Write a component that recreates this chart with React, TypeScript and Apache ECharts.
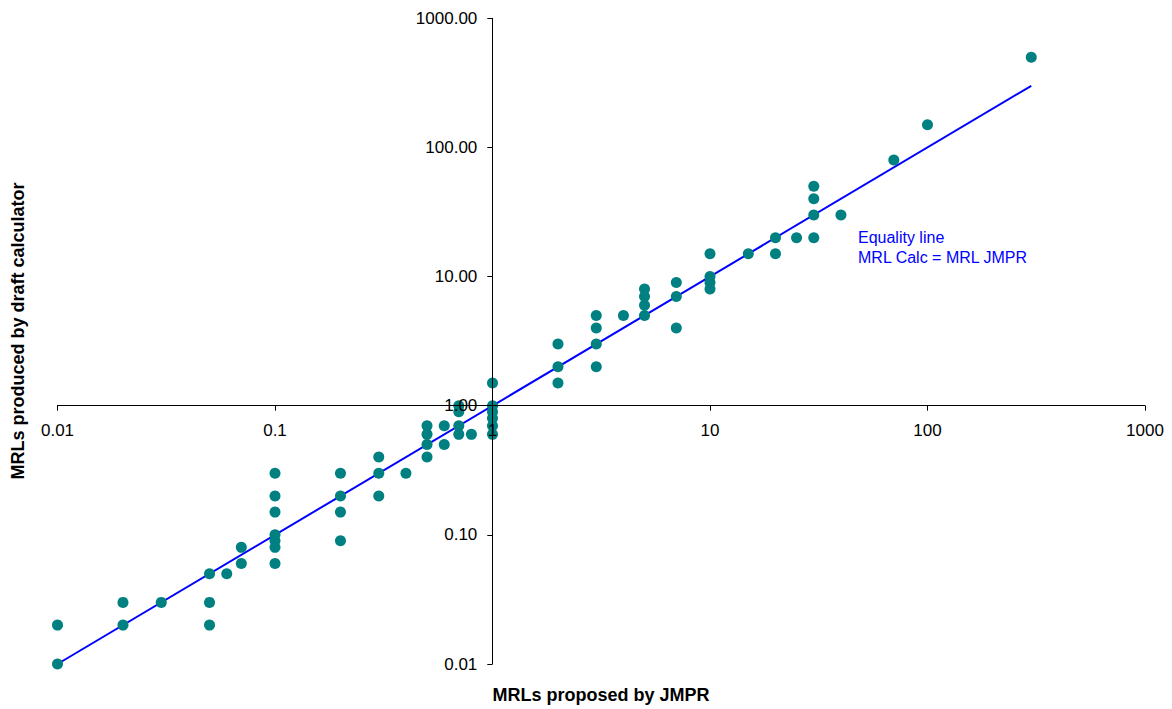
import React, { useEffect, useRef } from "react";
import * as echarts from "echarts";

// MRLs proposed by JMPR (x) vs MRLs produced by draft calculator (y)
const points: [number, number][] = [
  [0.01, 0.02], [0.01, 0.01],
  [0.02, 0.03], [0.02, 0.02],
  [0.03, 0.03],
  [0.05, 0.05], [0.05, 0.03], [0.05, 0.02],
  [0.06, 0.05],
  [0.07, 0.08], [0.07, 0.06],
  [0.1, 0.3], [0.1, 0.2], [0.1, 0.15], [0.1, 0.1], [0.1, 0.09], [0.1, 0.08], [0.1, 0.06],
  [0.2, 0.3], [0.2, 0.2], [0.2, 0.15], [0.2, 0.09],
  [0.3, 0.4], [0.3, 0.3], [0.3, 0.2],
  [0.4, 0.3],
  [0.5, 0.7], [0.5, 0.6], [0.5, 0.5], [0.5, 0.4],
  [0.6, 0.7], [0.6, 0.5],
  [0.7, 1.0], [0.7, 0.9], [0.7, 0.7], [0.7, 0.6],
  [0.8, 0.6],
  [1, 1.5], [1, 1.0], [1, 0.9], [1, 0.8], [1, 0.7], [1, 0.6],
  [2, 3], [2, 2], [2, 1.5],
  [3, 5], [3, 4], [3, 3], [3, 2],
  [4, 5],
  [5, 8], [5, 7], [5, 6], [5, 5],
  [7, 9], [7, 7], [7, 4],
  [10, 15], [10, 10], [10, 9], [10, 8],
  [15, 15],
  [20, 20], [20, 15],
  [25, 20],
  [30, 50], [30, 40], [30, 30], [30, 20],
  [40, 30],
  [70, 80],
  [100, 150],
  [300, 500],
];

const equalityLine: [number, number][] = [
  [0.01, 0.01],
  [300, 300],
];

const xTickLabels = ["0.01", "0.1", "1", "10", "100", "1000"];
const yTickLabels = ["0.01", "0.10", "1.00", "10.00", "100.00", "1000.00"];

const FONT = "'Liberation Sans', Arial, Helvetica, sans-serif";

export default function App() {
  const ref = useRef<HTMLDivElement>(null);
  useEffect(() => {
    document.body.style.margin = "0";
    if (!ref.current) return;
    const chart = echarts.init(ref.current, undefined, { renderer: "svg" });
    const idx = (v: number) => Math.round(Math.log10(v)) + 2;
    chart.setOption({
      animation: false,
      backgroundColor: "#ffffff",
      grid: { left: 57.5, right: 27, top: 18.3, bottom: 45, containLabel: false },
      xAxis: {
        type: "log",
        logBase: 10,
        min: 0.01,
        max: 1000,
        position: "bottom",
        offset: -258.3,
        z: 5,
        axisLine: { onZero: false, lineStyle: { color: "#000", width: 1 } },
        axisTick: { show: true, length: 5, lineStyle: { color: "#000" } },
        minorTick: { show: false },
        splitLine: { show: false },
        axisLabel: {
          margin: 16,
          color: "#000",
          fontSize: 17,
          fontFamily: FONT,
          formatter: (v: number) => xTickLabels[idx(v)] ?? "",
        },
      },
      yAxis: {
        type: "log",
        logBase: 10,
        min: 0.01,
        max: 1000,
        position: "left",
        offset: -434.8,
        z: 5,
        axisLine: { onZero: false, lineStyle: { color: "#000", width: 1 } },
        axisTick: { show: true, length: 5, lineStyle: { color: "#000" } },
        splitLine: { show: false },
        axisLabel: {
          margin: 15,
          color: "#000",
          fontSize: 17,
          fontFamily: FONT,
          formatter: (v: number) => yTickLabels[idx(v)] ?? "",
        },
      },
      series: [
        {
          type: "line",
          data: equalityLine,
          showSymbol: false,
          symbol: "none",
          lineStyle: { color: "#0000ff", width: 2 },
          z: 1,
        },
        {
          type: "scatter",
          data: points,
          symbol: "circle",
          symbolSize: 11,
          itemStyle: { color: "#008080", opacity: 1 },
          z: 2,
        },
      ],
      graphic: [
        {
          type: "text",
          left: 858,
          top: 227,
          style: {
            text: "Equality line\nMRL Calc = MRL JMPR",
            fill: "#0000ff",
            fontSize: 16,
            lineHeight: 20,
            fontFamily: FONT,
          },
        },
        {
          type: "text",
          x: 601,
          y: 695,
          style: {
            text: "MRLs proposed by JMPR",
            fill: "#000",
            fontSize: 18,
            fontWeight: "bold",
            fontFamily: FONT,
            align: "center",
            verticalAlign: "middle",
          },
        },
        {
          type: "text",
          x: 18,
          y: 331,
          rotation: Math.PI / 2,
          style: {
            text: "MRLs produced by draft calculator",
            fill: "#000",
            fontSize: 18,
            fontWeight: "bold",
            fontFamily: FONT,
            align: "center",
            verticalAlign: "middle",
          },
        },
      ],
    });
    return () => chart.dispose();
  }, []);
  return <div ref={ref} style={{ width: 1172, height: 709 }} />;
}
